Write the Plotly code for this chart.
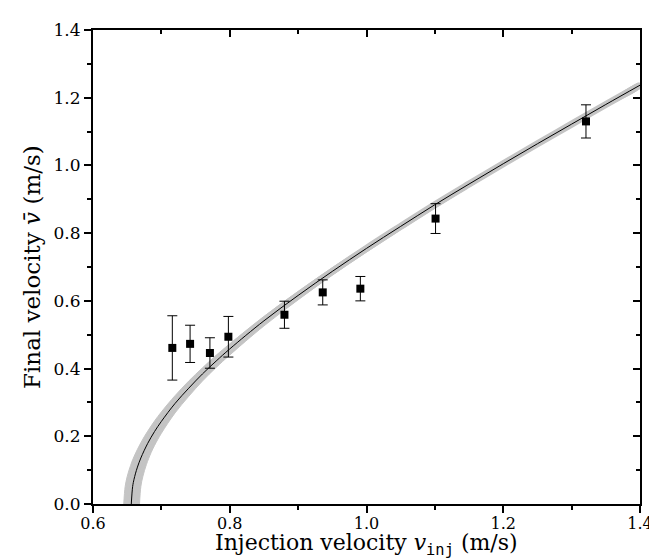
import plotly.graph_objects as go

# measured points
v_inj = [0.716, 0.742, 0.771, 0.798, 0.880, 0.936, 0.991, 1.101, 1.321]
v_fin = [0.461, 0.473, 0.446, 0.494, 0.559, 0.625, 0.636, 0.843, 1.130]
v_err = [0.095, 0.055, 0.045, 0.060, 0.040, 0.037, 0.036, 0.044, 0.049]

# fitted curve
fit_x = [0.656, 0.658, 0.660, 0.662, 0.665, 0.670, 0.680, 0.690, 0.700, 0.720, 0.740,
         0.760, 0.780, 0.800, 0.850, 0.900, 0.950, 1.000, 1.050, 1.100, 1.150,
         1.200, 1.250, 1.300, 1.350, 1.400]
fit_y = [0.000, 0.052, 0.073, 0.089, 0.109, 0.136, 0.179, 0.214, 0.244, 0.297, 0.342,
         0.384, 0.422, 0.458, 0.541, 0.616, 0.687, 0.755, 0.820, 0.884, 0.945,
         1.005, 1.064, 1.122, 1.180, 1.237]

# uncertainty band edges
band_hi_x = [0.645, 0.647, 0.650, 0.655, 0.660, 0.670, 0.680, 0.690, 0.700, 0.720, 0.740,
             0.760, 0.780, 0.800, 0.850, 0.900, 0.950, 1.000, 1.050, 1.100, 1.150,
             1.200, 1.250, 1.300, 1.350, 1.400]
band_hi_y = [0.000, 0.051, 0.081, 0.114, 0.140, 0.181, 0.215, 0.245, 0.272, 0.320, 0.363,
             0.402, 0.439, 0.473, 0.554, 0.628, 0.698, 0.764, 0.829, 0.891, 0.952,
             1.012, 1.071, 1.129, 1.186, 1.243]
band_lo_x = [0.668, 0.670, 0.673, 0.678, 0.685, 0.690, 0.700, 0.720, 0.740, 0.760, 0.780,
             0.800, 0.850, 0.900, 0.950, 1.000, 1.050, 1.100, 1.150, 1.200, 1.250,
             1.300, 1.350, 1.400]
band_lo_y = [0.000, 0.052, 0.082, 0.116, 0.152, 0.173, 0.209, 0.269, 0.318, 0.363, 0.403,
             0.440, 0.526, 0.603, 0.676, 0.744, 0.810, 0.874, 0.936, 0.997, 1.057,
             1.115, 1.173, 1.230]

x_ticks = [0.6, 0.8, 1.0, 1.2, 1.4]
y_ticks = [0.0, 0.2, 0.4, 0.6, 0.8, 1.0, 1.2, 1.4]

x_title = ("Injection velocity <i>v</i><sub><span style=\"font-family:'DejaVu Sans Mono'\">"
           "inj</span></sub> (m/s)")
y_title = "Final velocity <i>v̄</i> (m/s)"

FONT = "DejaVu Serif"
GRAY = "#c4c4c4"

fig = go.Figure()

# band polygon
fig.add_trace(go.Scatter(
    x=band_hi_x + band_lo_x[::-1], y=band_hi_y + band_lo_y[::-1],
    mode="lines", fill="toself", fillcolor=GRAY, line=dict(color=GRAY, width=1, shape="spline"),
    hoverinfo="skip", showlegend=False))
fig.add_trace(go.Scatter(
    x=fit_x, y=fit_y, mode="lines", line=dict(color=GRAY, width=7, shape="spline"),
    hoverinfo="skip", showlegend=False))
fig.add_trace(go.Scatter(
    x=fit_x, y=fit_y, mode="lines", line=dict(color="black", width=1, shape="spline"),
    showlegend=False))

fig.add_trace(go.Scatter(
    x=v_inj, y=v_fin, mode="markers",
    marker=dict(symbol="square", size=8, color="black"),
    error_y=dict(type="data", array=v_err, color="black", thickness=1, width=5),
    showlegend=False))

# helper trace for mirrored axes
fig.add_trace(go.Scatter(x=[None], y=[None], xaxis="x2", yaxis="y2",
                         showlegend=False, hoverinfo="skip"))

common = dict(showline=True, linewidth=2, linecolor="black", showgrid=False,
              zeroline=False, tickcolor="black", tickwidth=1.5, ticklen=7)

fig.update_layout(
    width=657, height=559,
    margin=dict(l=85, r=19, t=19, b=63),
    plot_bgcolor="white", paper_bgcolor="white",
    font=dict(family=FONT, size=17, color="black"),
    xaxis=dict(range=[0.6, 1.4], tickvals=x_ticks, tickformat=".1f", ticks="outside",
               minor=dict(dtick=0.1, tick0=0.6, ticks="outside", ticklen=4,
                          tickcolor="black", tickwidth=1.5),
               ticklabelstandoff=-3,
               tickfont=dict(size=16), **common),
    yaxis=dict(range=[0, 1.4], tickvals=y_ticks, tickformat=".1f", ticks="outside",
               minor=dict(dtick=0.1, tick0=0, ticks="outside", ticklen=4,
                          tickcolor="black", tickwidth=1.5),
               tickfont=dict(size=17), **common),
    xaxis2=dict(range=[0.6, 1.4], overlaying="x", side="top", anchor="y2",
                tickvals=x_ticks, ticks="inside", showticklabels=False,
                minor=dict(dtick=0.1, tick0=0.6, ticks="inside", ticklen=4,
                           tickcolor="black", tickwidth=1.5),
                **common),
    yaxis2=dict(range=[0, 1.4], overlaying="y", side="right", anchor="x2",
                tickvals=y_ticks, ticks="inside", showticklabels=False,
                minor=dict(dtick=0.1, tick0=0, ticks="inside", ticklen=4,
                           tickcolor="black", tickwidth=1.5),
                **common),
    annotations=[
        dict(text=x_title, xref="paper", yref="paper", x=0.5, y=0,
             xanchor="center", yanchor="middle", yshift=-40, showarrow=False,
             font=dict(size=22, family=FONT)),
        dict(text=y_title, xref="paper", yref="paper", x=0, y=0.5, textangle=-90,
             xanchor="center", yanchor="middle", xshift=-61, showarrow=False,
             font=dict(size=23, family=FONT)),
    ],
)

fig.write_html("out.html")
